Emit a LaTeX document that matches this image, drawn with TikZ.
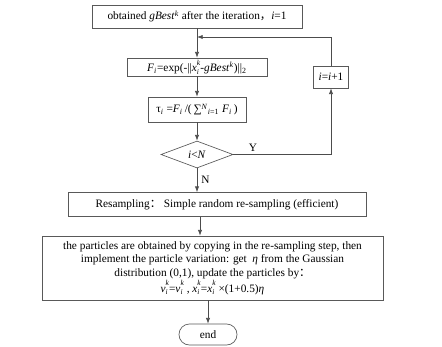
\documentclass[tikz,border=0pt]{standalone}
\usepackage{fontspec}
\setmainfont{Liberation Serif}
\newfontfamily\cjk{Noto Sans CJK SC}
\usetikzlibrary{positioning,arrows.meta,shapes.geometric}
\newcommand{\subsup}[3]{\textit{#1}\raisebox{-1.9pt}{\fontsize{5.6}{5.6}\selectfont\shortstack[l]{\textit{#3}\\\textit{#2}}}}
\newcommand{\gbest}{\textit{gBest}\textsuperscript{\textit{k}}}

\begin{document}
\begin{tikzpicture}[x=0.75pt,y=-0.75pt,font=\fontsize{8.5}{10.3}\selectfont,
  box/.style={draw=cbox,line width=0.5pt,inner sep=1pt,align=center},
  arr/.style={draw=cline,line width=0.5pt,-{Latex[length=1.5mm,width=1.1mm]}}]
\colorlet{cbox}{black!65}\colorlet{cline}{black!70}
\useasboundingbox (0,0) rectangle (442,346);
% main column
\node[box,minimum width=157.5pt,minimum height=17.25pt] (start) at (197,16.5)
  {obtained \gbest{} after the iteration{\cjk ，}\textit{i}=1};
\node[box,minimum width=105pt,minimum height=13.5pt] (fitness) at (197,67)
  {\textit{F}\textsubscript{\textit{i}}=exp(-||\subsup{x}{i}{k}-\gbest)||\textsubscript{2}};
\node[box,minimum width=73.5pt,minimum height=18.75pt] (weight) at (197,109.5)
  {τ\textsubscript{\textit{i}} =\textit{F}\textsubscript{\textit{i}}\,/(\,∑\textsuperscript{\textit{N}}\textsubscript{\textit{i}=1} \textit{F}\textsubscript{\textit{i}}\,)};
\node[box,diamond,aspect=2.6,inner sep=0pt,minimum width=54pt,minimum height=20.25pt] (cond) at (197,154.5)
  {\textit{i}<\textit{N}};
\node[box,minimum width=26.25pt,minimum height=16.5pt] (inc) at (331,77)
  {\textit{i}=\textit{i}+1};
\node[box,minimum width=223.5pt,minimum height=18pt] (resamp) at (217,204.5)
  {Resampling{\cjk ：} Simple random re-sampling (efficient)};
\node[box,minimum width=255.75pt,minimum height=48pt] (update) at (212.5,268)
  {the particles are obtained by copying in the re-sampling step, then\\
   implement the particle variation: get \ \textit{η} from the Gaussian\\
   distribution (0,1), update the particles by{\cjk ：}\\
   \subsup{v}{i}{k}=\subsup{v}{i}{k} , \subsup{x}{i}{k}=\subsup{x}{i}{k} ×(1+0.5)\textit{η}};
\node[box,rounded corners=7.8pt,minimum width=43.5pt,minimum height=15.75pt] (end) at (208,334.5)
  {end};
% connectors
\coordinate (join) at (197,37);
\draw[arr] (start) -- (fitness);
\draw[arr] (fitness) -- (weight);
\draw[arr] (weight) -- (cond);
\draw[arr] (cond.east) -| node[pos=0.1,above,inner sep=2pt]{Y} (inc.south);
\draw[arr] (inc.north) |- (join);
\draw[arr] (cond.south) -- node[right,inner sep=3pt]{N} (cond.south |- resamp.north);
\draw[arr] (resamp.south -| 200,0) -- (update.north -| 200,0);
\draw[arr] (update.south -| end.north) -- (end.north);
\end{tikzpicture}
\end{document}
